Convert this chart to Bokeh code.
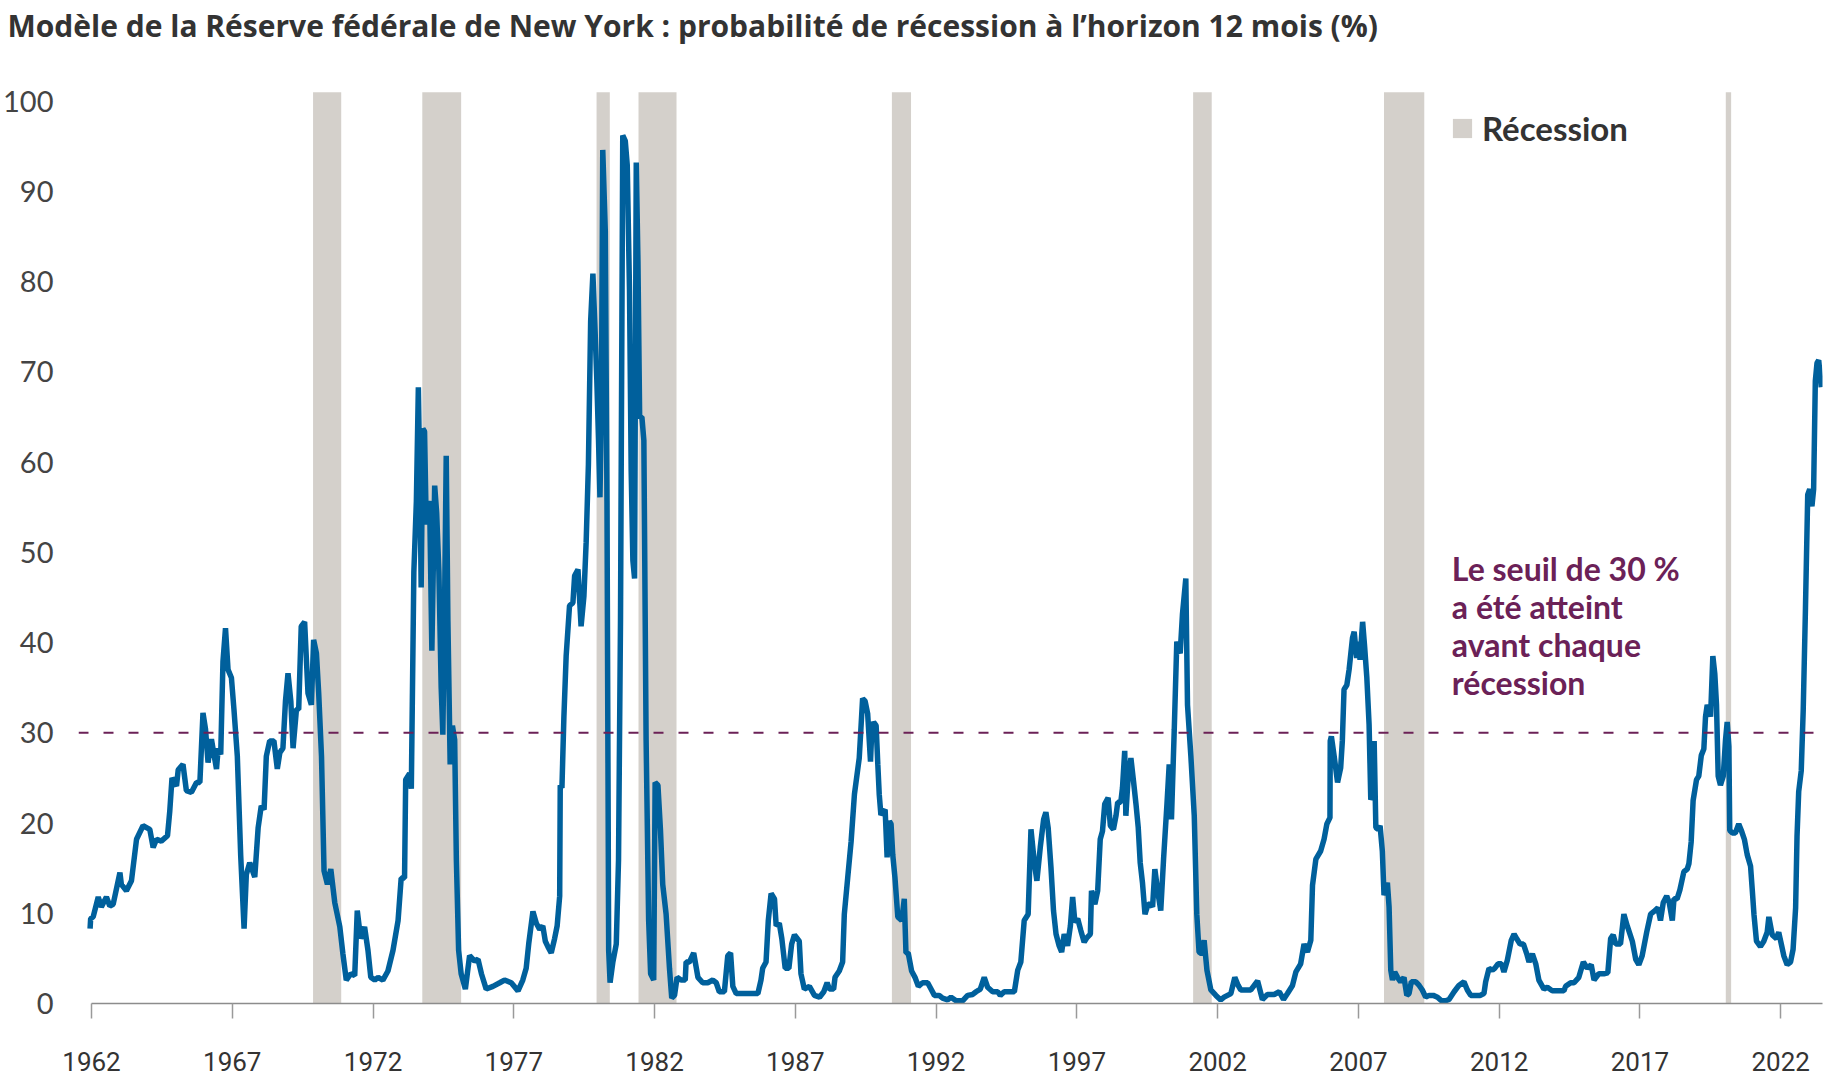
from bokeh.plotting import figure
from bokeh.models import FixedTicker, Span, Label, Legend, LegendItem
from bokeh.embed import file_html
from bokeh.resources import INLINE

# ---------------- data ----------------
title_text = "Modèle de la Réserve fédérale de New York : probabilité de récession à l’horizon 12 mois (%)"

dates = [
    1961.95, 1961.97, 1962.06, 1962.24, 1962.35, 1962.53, 1962.65, 1962.77, 1963.01, 1963.06,
    1963.24, 1963.42, 1963.60, 1963.83, 1964.07, 1964.19, 1964.31, 1964.48, 1964.70, 1964.78,
    1964.86, 1965.02, 1965.08, 1965.25, 1965.37, 1965.55, 1965.73, 1965.85, 1965.96, 1966.05,
    1966.14, 1966.26, 1966.34, 1966.44, 1966.50, 1966.59, 1966.67, 1966.76, 1966.85, 1966.97,
    1967.06, 1967.18, 1967.30, 1967.42, 1967.50, 1967.62, 1967.80, 1967.92, 1968.03, 1968.13,
    1968.21, 1968.33, 1968.48, 1968.60, 1968.69, 1968.80, 1968.89, 1968.98, 1969.08, 1969.16,
    1969.28, 1969.36, 1969.45, 1969.57, 1969.69, 1969.81, 1969.89, 1969.99, 1970.07, 1970.17,
    1970.26, 1970.38, 1970.50, 1970.64, 1970.82, 1970.93, 1971.05, 1971.21, 1971.35, 1971.44,
    1971.56, 1971.70, 1971.82, 1971.92,
    1972.06, 1972.18, 1972.35, 1972.53, 1972.71, 1972.89, 1973.00, 1973.12, 1973.16, 1973.30,
    1973.36, 1973.45, 1973.54, 1973.61, 1973.68, 1973.71, 1973.77, 1973.83, 1973.89, 1974.01,
    1974.09, 1974.19, 1974.26, 1974.34, 1974.42, 1974.48, 1974.54, 1974.60, 1974.66, 1974.74,
    1974.82, 1974.90, 1974.96, 1975.04, 1975.13, 1975.28, 1975.43, 1975.61, 1975.73, 1975.85,
    1976.02, 1976.26, 1976.50, 1976.67, 1976.91, 1977.15, 1977.32, 1977.44, 1977.53, 1977.68,
    1977.80, 1977.92, 1978.03, 1978.12, 1978.21, 1978.33, 1978.45, 1978.54, 1978.63, 1978.65,
    1978.71, 1978.78, 1978.86, 1978.98, 1979.10, 1979.16, 1979.28, 1979.39, 1979.49, 1979.57,
    1979.65, 1979.73, 1979.81, 1979.89, 1979.95, 1980.01, 1980.06, 1980.11, 1980.16, 1980.25,
    1980.31, 1980.37, 1980.42, 1980.52, 1980.64, 1980.72, 1980.79, 1980.84, 1980.87, 1980.96,
    1981.03, 1981.11, 1981.17, 1981.23, 1981.29, 1981.35, 1981.41, 1981.47, 1981.55, 1981.62,
    1981.70, 1981.79, 1981.86, 1981.97, 1982.02, 1982.12, 1982.21,
    1982.29, 1982.41, 1982.53, 1982.61, 1982.71, 1982.80, 1982.94, 1983.09, 1983.12, 1983.24,
    1983.39, 1983.54, 1983.71, 1983.89, 1984.07, 1984.19, 1984.30, 1984.48, 1984.60, 1984.70,
    1984.78, 1984.90, 1985.19, 1985.67, 1985.78, 1985.84, 1985.96, 1986.04, 1986.14, 1986.26,
    1986.32, 1986.43, 1986.52, 1986.64, 1986.77, 1986.87, 1986.97, 1987.14, 1987.20, 1987.32,
    1987.50, 1987.68, 1987.86, 1988.01, 1988.13, 1988.21, 1988.36, 1988.41, 1988.56, 1988.68,
    1988.74, 1988.86, 1988.98, 1989.10, 1989.27, 1989.33, 1989.39, 1989.48, 1989.57, 1989.67,
    1989.71, 1989.78, 1989.87, 1989.93, 1989.98, 1990.04, 1990.19, 1990.26, 1990.34, 1990.40,
    1990.46, 1990.54, 1990.64, 1990.78, 1990.87, 1990.93, 1991.01, 1991.13, 1991.25, 1991.37,
    1991.52, 1991.70, 1991.82, 1991.94, 1992.11, 1992.23, 1992.41,
    1992.53, 1992.71, 1992.94, 1993.12, 1993.30, 1993.42, 1993.57, 1993.71, 1993.83, 1994.01,
    1994.19, 1994.28, 1994.42, 1994.78, 1994.90, 1995.01, 1995.13, 1995.27, 1995.37, 1995.49,
    1995.58, 1995.70, 1995.82, 1995.90, 1995.98, 1996.08, 1996.17, 1996.26, 1996.37, 1996.46,
    1996.55, 1996.67, 1996.77, 1996.85, 1996.93, 1997.03, 1997.14, 1997.26, 1997.36, 1997.48,
    1997.52, 1997.64, 1997.74, 1997.83, 1997.91, 1997.99, 1998.11, 1998.19, 1998.30, 1998.39,
    1998.45, 1998.56, 1998.62, 1998.70, 1998.74, 1998.82, 1998.92, 1999.01, 1999.10, 1999.18,
    1999.25, 1999.33, 1999.42, 1999.53, 1999.63, 1999.69, 1999.77, 1999.87, 1999.98, 2000.08,
    2000.20, 2000.28, 2000.36, 2000.46, 2000.55, 2000.67, 2000.75, 2000.87, 2000.93, 2001.05,
    2001.17, 2001.26, 2001.34, 2001.43, 2001.52, 2001.62, 2001.76, 2001.94, 2002.11, 2002.23,
    2002.35, 2002.47, 2002.61, 2002.73, 2002.82,
    2003.18, 2003.42, 2003.59, 2003.77, 2004.01, 2004.19, 2004.34, 2004.48, 2004.66, 2004.78,
    2004.95, 2005.07, 2005.19, 2005.31, 2005.37, 2005.49, 2005.66, 2005.78, 2005.88, 2005.99,
    2006.00, 2006.04, 2006.14, 2006.26, 2006.37, 2006.43, 2006.49, 2006.59, 2006.67, 2006.79,
    2006.85, 2006.94, 2006.99, 2007.06, 2007.11, 2007.15, 2007.22, 2007.30, 2007.38, 2007.44,
    2007.50, 2007.56, 2007.62, 2007.70, 2007.77, 2007.85, 2007.91, 2008.03, 2008.09, 2008.15,
    2008.21, 2008.29, 2008.39, 2008.50, 2008.62, 2008.72, 2008.80, 2008.88, 2009.04, 2009.16,
    2009.27, 2009.39, 2009.51, 2009.66, 2009.81, 2009.95, 2010.10, 2010.22, 2010.40, 2010.57,
    2010.75, 2010.87, 2010.99, 2011.17, 2011.32, 2011.46, 2011.52, 2011.64, 2011.76, 2011.84,
    2011.96, 2012.08, 2012.17, 2012.29, 2012.43, 2012.53, 2012.62, 2012.74, 2012.86, 2012.98,
    2013.06,
    2013.18, 2013.30, 2013.41, 2013.59, 2013.71, 2013.89, 2014.06, 2014.30, 2014.36, 2014.54,
    2014.66, 2014.83, 2014.99, 2015.13, 2015.27, 2015.37, 2015.54, 2015.72, 2015.86, 2015.96,
    2016.05, 2016.14, 2016.31, 2016.43, 2016.55, 2016.73, 2016.85, 2016.96, 2017.08, 2017.24,
    2017.38, 2017.50, 2017.64, 2017.73, 2017.83, 2017.95, 2018.04, 2018.15, 2018.21, 2018.32,
    2018.42, 2018.56, 2018.68, 2018.74, 2018.82, 2018.89, 2019.01, 2019.09, 2019.18, 2019.27,
    2019.33, 2019.39, 2019.51, 2019.59, 2019.66, 2019.72, 2019.78, 2019.86, 2019.96, 2020.04,
    2020.10, 2020.16, 2020.19, 2020.28, 2020.39, 2020.51, 2020.60, 2020.71, 2020.81, 2020.93,
    2020.99, 2021.05, 2021.14, 2021.28, 2021.40, 2021.52, 2021.58, 2021.70, 2021.85, 2021.93,
    2022.02, 2022.11, 2022.23, 2022.35, 2022.44, 2022.53, 2022.58, 2022.64, 2022.73, 2022.80,
    2022.88, 2022.96, 2023.03, 2023.11, 2023.17, 2023.23, 2023.29, 2023.35, 2023.44,
]

prob = [
    8.3, 9.4, 9.6, 11.8, 10.7, 11.8, 10.8, 11.0, 14.5, 13.2,
    12.5, 13.6, 18.2, 19.7, 19.3, 17.3, 18.2, 18.0, 18.6, 21.3,
    25.0, 24.1, 25.9, 26.5, 23.6, 23.4, 24.5, 24.5, 32.2, 30.4,
    26.7, 29.3, 27.8, 26.0, 28.3, 27.6, 37.9, 41.6, 37.0, 36.1,
    32.6, 27.4, 16.4, 8.3, 14.3, 15.6, 14.0, 19.5, 21.9, 21.5,
    27.4, 29.1, 29.1, 26.0, 27.8, 28.3, 33.5, 36.6, 33.5, 28.3,
    32.6, 32.6, 41.8, 42.3, 34.4, 33.1, 40.3, 38.8, 34.4, 27.4,
    14.7, 13.2, 14.9, 11.2, 8.5, 5.5, 2.6, 3.3, 3.1, 10.3,
    7.2, 8.5, 5.9, 2.9,
    2.6, 2.9, 2.6, 3.6, 5.9, 9.2, 13.9, 13.9, 24.8, 25.5,
    23.8, 47.8, 55.7, 68.3, 54.4, 46.1, 63.7, 63.4, 53.1, 55.7,
    39.1, 57.4, 54.4, 47.8, 35.1, 29.8, 43.8, 60.7, 42.4, 26.5,
    30.8, 29.2, 15.9, 5.9, 3.3, 1.6, 5.3, 4.7, 4.9, 3.3,
    1.6, 1.9, 2.3, 2.6, 2.3, 1.4, 2.6, 3.9, 6.6, 10.2,
    8.9, 8.2, 8.6, 6.9, 6.3, 5.6, 7.2, 8.6, 11.9, 24.2,
    23.9, 31.8, 38.5, 44.1, 44.4, 47.4, 48.1, 41.8, 45.1, 51.1,
    59.7, 75.6, 80.9, 74.3, 69.0, 62.4, 56.1, 65.0, 94.6, 85.6,
    55.7, 5.9, 2.3, 4.6, 6.6, 15.9, 42.4, 75.6, 96.2, 95.6,
    92.9, 79.0, 59.0, 49.1, 47.1, 93.2, 82.3, 65.0, 65.0, 62.4,
    29.2, 9.2, 3.3, 2.6, 24.5, 24.2, 19.2,
    13.2, 9.9, 3.9, 0.6, 0.9, 2.9, 2.6, 2.6, 4.6, 4.6,
    5.6, 2.9, 2.3, 2.3, 2.6, 2.3, 1.3, 1.3, 5.3, 5.6,
    1.9, 1.1, 1.1, 1.1, 2.6, 3.9, 4.6, 9.2, 12.2, 11.6,
    8.6, 8.9, 7.2, 3.9, 3.9, 6.6, 7.6, 6.9, 3.3, 1.6,
    1.9, 0.9, 0.7, 1.3, 2.3, 1.6, 1.6, 2.9, 3.6, 4.6,
    9.9, 13.9, 17.9, 23.2, 27.2, 30.5, 33.8, 33.5, 32.1, 26.8,
    29.8, 31.2, 30.8, 26.5, 23.2, 20.9, 21.5, 16.2, 20.2, 19.9,
    16.5, 13.9, 9.6, 9.2, 11.6, 5.6, 5.6, 3.6, 2.9, 1.9,
    2.3, 2.3, 1.6, 0.9, 0.9, 0.6, 0.4,
    0.7, 0.3, 0.3, 0.9, 1.0, 1.3, 1.6, 2.9, 1.8, 1.3,
    1.3, 0.9, 1.3, 1.3, 3.7, 4.6, 9.2, 9.9, 19.3, 15.6,
    13.6, 17.3, 20.4, 21.2, 19.5, 15.1, 10.3, 7.7, 6.4, 5.7,
    7.7, 6.4, 8.6, 11.8, 9.0, 9.4, 8.1, 6.8, 7.3, 7.7,
    12.5, 11.0, 12.5, 18.2, 19.1, 22.1, 22.8, 19.7, 19.3, 20.8,
    22.3, 22.3, 23.9, 28.0, 20.8, 25.0, 27.2, 24.7, 22.1, 19.5,
    15.6, 13.4, 9.9, 11.0, 11.0, 10.7, 14.9, 12.5, 10.3, 16.0,
    22.1, 26.5, 20.4, 30.4, 40.1, 38.8, 43.1, 47.1, 33.1, 27.4,
    20.8, 9.9, 5.7, 5.5, 7.0, 3.7, 1.5, 0.9, 0.4, 0.7,
    0.9, 1.1, 2.9, 2.0, 1.5,
    1.5, 2.5, 0.45, 1.0, 1.0, 1.3, 0.45, 1.1, 2.0, 3.5,
    4.4, 6.6, 5.7, 7.0, 13.1, 16.0, 16.9, 18.2, 19.9, 20.6,
    29.1, 29.6, 27.4, 24.5, 26.1, 29.1, 34.8, 35.3, 37.0, 40.5,
    41.2, 38.3, 40.1, 38.1, 40.5, 42.3, 39.6, 36.1, 30.9, 22.6,
    23.0, 29.1, 19.5, 19.3, 19.7, 16.9, 12.0, 13.4, 10.7, 3.7,
    2.6, 3.5, 2.9, 2.4, 2.9, 0.9, 1.1, 2.4, 2.4, 2.0,
    1.5, 0.7, 0.9, 0.9, 0.7, 0.3, 0.3, 0.45, 1.3, 2.0,
    2.4, 1.5, 0.9, 0.9, 0.9, 1.1, 2.4, 3.9, 3.7, 3.9,
    4.4, 4.4, 3.5, 4.8, 7.0, 7.7, 7.2, 6.6, 6.6, 5.5,
    4.6,
    5.5, 4.4, 2.6, 1.6, 1.8, 1.4, 1.4, 1.4, 1.9, 2.3,
    2.3, 2.9, 4.6, 3.9, 4.3, 2.6, 3.3, 3.3, 3.4, 7.2,
    7.6, 6.6, 6.6, 9.9, 8.6, 6.9, 4.9, 4.3, 5.3, 7.9,
    9.9, 10.2, 10.6, 9.2, 11.2, 11.9, 11.2, 9.2, 11.6, 11.6,
    12.6, 14.6, 14.9, 15.5, 17.9, 22.5, 24.8, 25.2, 27.5, 28.2,
    31.8, 33.1, 31.8, 38.5, 36.5, 33.1, 25.2, 24.2, 25.2, 29.2,
    31.2, 28.5, 19.2, 18.9, 18.9, 19.9, 19.2, 18.2, 16.5, 15.2,
    12.6, 9.9, 6.9, 6.3, 6.9, 7.9, 9.6, 7.6, 7.2, 7.9,
    6.6, 5.3, 4.3, 4.6, 6.0, 10.6, 18.5, 23.5, 25.8, 32.5,
    43.8, 56.4, 57.0, 55.1, 57.0, 69.0, 71.0, 71.3, 68.3,
]

recession_start = [1969.87, 1973.75, 1979.94, 1981.43, 1990.43, 2001.13, 2007.91, 2020.05]
recession_end = [1970.87, 1975.13, 1980.41, 1982.78, 1991.11, 2001.79, 2009.34, 2020.24]
recession_top = 101
threshold = 30

x_ticks = [1962, 1967, 1972, 1977, 1982, 1987, 1992, 1997, 2002, 2007, 2012, 2017, 2022]
y_ticks = [0, 10, 20, 30, 40, 50, 60, 70, 80, 90, 100]

legend_label = "Récession"
note_text = "Le seuil de 30 %\na été atteint\navant chaque\nrécession"

# ---------------- styles ----------------
BLUE = "#00609c"
PURPLE = "#6b2157"
BAND = "#d4d0cb"
DARK = "#333333"

p = figure(width=1832, height=1080, output_backend="svg", toolbar_location=None,
           x_range=(1961.5385, 2023.485), y_range=(0, 105.4),
           min_border_left=77, min_border_right=10, min_border_top=0, min_border_bottom=77,
           background_fill_color="white", border_fill_color="white")

p.title.text = title_text
p.title.text_font = "Open Sans"
p.title.text_font_size = "30px"
p.title.text_font_style = "bold"
p.title.text_color = DARK
p.title.align = "left"
p.title.vertical_align = "top"
p.title.offset = -71
p.title.standoff = 9

bands = p.quad(left=recession_start, right=recession_end, bottom=0, top=recession_top,
               fill_color=BAND, line_color=None)

p.add_layout(Span(location=threshold, dimension="width", line_color=PURPLE,
                  line_width=2, line_dash="10 15"))

p.line(dates, prob, line_color=BLUE, line_width=5.5)

legend = Legend(items=[LegendItem(label=legend_label, renderers=[bands])],
                location=(1372, 855), glyph_width=24, glyph_height=24,
                label_standoff=8, padding=0, margin=0,
                label_text_font="Lato", label_text_font_size="33px",
                label_text_font_style="bold", label_text_color=DARK,
                background_fill_alpha=0, border_line_alpha=0)
p.add_layout(legend)

p.add_layout(Label(x=2010.32, y=50.4, text=note_text, text_baseline="top",
                   text_align="left", text_font="Lato", text_font_size="32px",
                   text_font_style="bold", text_color=PURPLE, text_line_height=0.98))

# axes
p.xaxis.ticker = FixedTicker(ticks=x_ticks)
p.xaxis.major_label_overrides = {t: str(t) for t in x_ticks}
p.xaxis.bounds = (1962, 2023.485)
p.xaxis.axis_line_color = "#8c8c8c"
p.xaxis.axis_line_width = 1.5
p.xaxis.major_tick_line_color = "#9a9a9a"
p.xaxis.major_tick_line_width = 1.5
p.xaxis.major_tick_out = 15
p.xaxis.major_tick_in = 0
p.xaxis.minor_tick_line_color = None
p.xaxis.major_label_standoff = 33
p.xaxis.major_label_text_font = "Roboto"
p.xaxis.major_label_text_font_size = "26px"
p.xaxis.major_label_text_color = DARK

p.yaxis.ticker = FixedTicker(ticks=y_ticks)
p.yaxis.axis_line_color = None
p.yaxis.major_tick_line_color = None
p.yaxis.major_tick_out = 0
p.yaxis.major_tick_in = 0
p.yaxis.minor_tick_line_color = None
p.yaxis.minor_tick_out = 0
p.yaxis.major_label_standoff = 25
p.yaxis.major_label_text_font = "Lato"
p.yaxis.major_label_text_font_size = "29px"
p.yaxis.major_label_text_color = "#444444"

p.grid.grid_line_color = None
p.outline_line_color = None

open("out.html", "w").write(file_html(p, INLINE))
